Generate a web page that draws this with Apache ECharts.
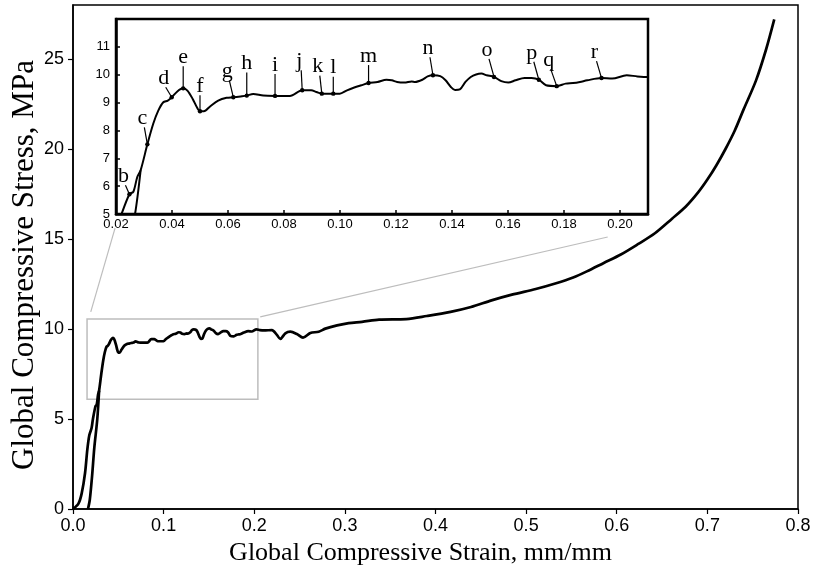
<!DOCTYPE html>
<html>
<head>
<meta charset="utf-8">
<script src="https://cdn.jsdelivr.net/npm/echarts@6/dist/echarts.min.js"></script>
<style>
  html, body { margin: 0; padding: 0; background: #fff; }
  #main { width: 813px; height: 571px; }
</style>
</head>
<body>
<div id="main"></div>
<script>
// main stress-strain curve
var strain = [0, 0.006, 0.0096, 0.0133, 0.0158, 0.018, 0.0205, 0.022, 0.0248, 0.0262,
  0.0276, 0.0288, 0.0312, 0.0333, 0.0351, 0.0369, 0.0385, 0.0399, 0.0419, 0.044,
  0.0455, 0.0474, 0.049, 0.05, 0.0514, 0.0536, 0.0565, 0.0595, 0.0619, 0.0645,
  0.0667, 0.069, 0.0726, 0.0768, 0.0821, 0.0865, 0.0897, 0.0916, 0.0935, 0.0955,
  0.0976, 0.0999, 0.1025, 0.1051, 0.1076, 0.1102, 0.1134, 0.1166, 0.1185, 0.1204,
  0.123, 0.1256, 0.1268, 0.1294, 0.1313, 0.1332, 0.1358, 0.1377, 0.1396, 0.1411,
  0.1428, 0.1448, 0.1467, 0.1486, 0.1505, 0.1524, 0.155, 0.1576, 0.1601, 0.1627,
  0.1659, 0.1684, 0.171, 0.1736, 0.1774, 0.1806, 0.1832, 0.1857, 0.1883, 0.1934,
  0.1972, 0.2024, 0.2062, 0.2107, 0.2195, 0.225, 0.2287, 0.2343, 0.2398, 0.2471,
  0.2538, 0.2619, 0.2711, 0.2785, 0.2914, 0.3042, 0.3189, 0.3377, 0.3678, 0.3904,
  0.4166, 0.4392, 0.4618, 0.4843, 0.5106, 0.5331, 0.5519, 0.567, 0.5857, 0.6045,
  0.6233, 0.6421, 0.661, 0.676, 0.69, 0.70, 0.71, 0.72, 0.73, 0.74,
  0.7536, 0.7646, 0.7738];
var stress = [0, 0.3, 0.87, 2.0, 3.3, 4.1, 4.5, 5.0, 5.71, 5.8,
  6.33, 6.57, 7.5, 8.24, 8.71, 9.01, 9.07, 9.19, 9.4, 9.51,
  9.43, 9.13, 8.81, 8.69, 8.69, 8.86, 9.07, 9.17, 9.19, 9.22,
  9.25, 9.31, 9.25, 9.24, 9.24, 9.44, 9.44, 9.38, 9.32, 9.32,
  9.32, 9.32, 9.44, 9.54, 9.62, 9.70, 9.74, 9.82, 9.80, 9.74,
  9.72, 9.76, 9.74, 9.82, 9.94, 9.98, 9.95, 9.80, 9.56, 9.45,
  9.47, 9.74, 9.92, 10.01, 10.04, 9.98, 9.92, 9.77, 9.72, 9.80,
  9.88, 9.88, 9.82, 9.62, 9.59, 9.68, 9.70, 9.74, 9.80, 9.88,
  9.86, 9.98, 9.94, 9.92, 9.94, 9.67, 9.45, 9.76, 9.85, 9.72,
  9.52, 9.78, 9.85, 10.02, 10.2, 10.33, 10.4, 10.52, 10.55, 10.72,
  10.95, 11.22, 11.59, 11.91, 12.22, 12.54, 12.86, 13.2, 13.67, 14.14,
  14.71, 15.32, 16.13, 16.79, 17.6, 18.3, 19.1, 20.0, 21.0, 22.2,
  23.8, 25.5, 27.2];

// second, steeper loading branch near the origin
var strainB = [0.0165, 0.0185, 0.021, 0.0235, 0.0268, 0.0288];
var stressB = [0, 0.5, 1.8, 3.4, 5.0, 6.57];

// labelled points in the inset
var pointNames = ['b', 'c', 'd', 'e', 'f', 'g', 'h', 'i', 'j', 'k', 'l', 'm', 'n', 'o', 'p', 'q', 'r'];
var pointStrain = [0.0248, 0.0312, 0.0399, 0.044, 0.05, 0.0619, 0.0667, 0.0768, 0.0865,
  0.0935, 0.0976, 0.1102, 0.1332, 0.155, 0.171, 0.1774, 0.1934];
var pointStress = [5.71, 7.5, 9.19, 9.51, 8.69, 9.19, 9.25, 9.24, 9.44,
  9.32, 9.32, 9.70, 9.98, 9.92, 9.82, 9.59, 9.88];

// leader line offsets in pixels (dot -> letter)
var leadOffsets = [[-4, -9], [-3, -17], [-6, -10], [0, -22], [0, -16], [-4, -17], [0, -23],
  [0, -22], [-1, -20], [-2, -18], [0, -17], [0, -18], [-3, -18], [-5, -18], [-5, -18],
  [-6, -17], [-5, -17]];

function zip(a, b) {
  var out = [];
  for (var i = 0; i < a.length; i++) out.push([a[i], b[i]]);
  return out;
}

var curveA = zip(strain, stress);
var curveB = zip(strainB, stressB);
var points = zip(pointStrain, pointStress);

var myChart = echarts.init(document.getElementById('main'));

var option = {
  animation: false,
  backgroundColor: '#fff',
  textStyle: { fontFamily: 'Liberation Sans' },
  grid: [
    {
      left: 73, right: 15, top: 5, bottom: 62,
      outerBoundsMode: 'none', containLabel: false,
      show: true, borderColor: '#000', borderWidth: 1.5
    },
    {
      left: 116, right: 165, top: 19, bottom: 357,
      outerBoundsMode: 'none', containLabel: false,
      show: true, borderColor: '#000', borderWidth: 2.5, backgroundColor: '#fff', z: 5
    }
  ],
  xAxis: [
    {
      gridIndex: 0, type: 'value', min: 0, max: 0.8, interval: 0.1,
      name: 'Global Compressive Strain, mm/mm',
      nameLocation: 'middle', nameGap: 27,
      nameTextStyle: { fontFamily: 'Liberation Serif', fontSize: 26, color: '#000',
        padding: [0, 30, 0, 0] },
      axisLine: { lineStyle: { color: '#000', width: 1.5 } },
      axisTick: { length: 5, lineStyle: { color: '#000', width: 1.2 } },
      axisLabel: {
        color: '#000', fontSize: 18, margin: 8,
        formatter: function (v) { return v.toFixed(1); }
      },
      splitLine: { show: false }
    },
    {
      gridIndex: 1, type: 'value', min: 0.02, max: 0.21, interval: 0.02,
      z: 6,
      axisLine: { onZero: false, lineStyle: { color: '#000', width: 2.5 } },
      axisTick: { inside: true, length: 4, lineStyle: { color: '#000', width: 1.5 } },
      axisLabel: {
        color: '#000', fontSize: 13, margin: 4, showMaxLabel: false,
        formatter: function (v) { return v.toFixed(2); }
      },
      splitLine: { show: false }
    }
  ],
  yAxis: [
    {
      gridIndex: 0, type: 'value', min: 0, max: 28, interval: 5,
      name: 'Global Compressive Stress, MPa',
      nameLocation: 'middle', nameGap: 33, nameMoveOverlap: false,
      nameTextStyle: { fontFamily: 'Liberation Serif', fontSize: 31, color: '#000',
        padding: [0, 16, 0, 0] },
      axisLine: { lineStyle: { color: '#000', width: 1.5 } },
      axisTick: { length: 5, lineStyle: { color: '#000', width: 1.2 } },
      axisLabel: { color: '#000', fontSize: 18, margin: 9, showMaxLabel: false },
      splitLine: { show: false }
    },
    {
      gridIndex: 1, type: 'value', min: 5, max: 12, interval: 1,
      z: 6,
      axisLine: { onZero: false, lineStyle: { color: '#000', width: 2.5 } },
      axisTick: { inside: true, length: 4, lineStyle: { color: '#000', width: 1.5 } },
      axisLabel: { color: '#000', fontSize: 13, margin: 6, showMaxLabel: false },
      splitLine: { show: false }
    }
  ],
  series: [
    {
      name: 'Stress-strain',
      type: 'line',
      xAxisIndex: 0, yAxisIndex: 0,
      data: curveA,
      showSymbol: false,
      smooth: 0.3,
      lineStyle: { color: '#000', width: 2.7 },
      silent: true,
      markArea: {
        silent: true,
        itemStyle: { color: 'rgba(0,0,0,0)', borderColor: '#bdbdbd', borderWidth: 1.5 },
        data: [[{ coord: [0.0155, 10.55] }, { coord: [0.204, 6.1] }]]
      },
      markLine: {
        silent: true,
        symbol: 'none',
        label: { show: false },
        lineStyle: { color: '#bdbdbd', width: 1.2, type: 'solid' },
        data: [
          [{ coord: [0.0196, 10.95] }, { coord: [0.0464, 15.6] }],
          [{ coord: [0.2066, 10.67] }, { coord: [0.59, 15.11] }]
        ]
      }
    },
    {
      name: 'Branch B',
      type: 'line',
      xAxisIndex: 0, yAxisIndex: 0,
      data: curveB,
      showSymbol: false,
      smooth: 0.3,
      lineStyle: { color: '#000', width: 2.7 },
      silent: true
    },
    {
      name: 'Inset',
      type: 'line',
      xAxisIndex: 1, yAxisIndex: 1,
      data: curveA,
      showSymbol: false,
      smooth: 0.3,
      z: 7,
      lineStyle: { color: '#000', width: 2 },
      silent: true
    },
    {
      name: 'Inset B',
      type: 'line',
      xAxisIndex: 1, yAxisIndex: 1,
      data: curveB,
      showSymbol: false,
      smooth: 0.3,
      z: 7,
      lineStyle: { color: '#000', width: 2 },
      silent: true
    },
    {
      name: 'Points',
      type: 'custom',
      xAxisIndex: 1, yAxisIndex: 1,
      data: points,
      z: 8,
      clip: false,
      silent: true,
      renderItem: function (params, api) {
        var p = api.coord([api.value(0), api.value(1)]);
        var off = leadOffsets[params.dataIndex];
        var ex = p[0] + off[0], ey = p[1] + off[1];
        return {
          type: 'group',
          children: [
            { type: 'line', shape: { x1: p[0], y1: p[1], x2: ex, y2: ey },
              style: { stroke: '#000', lineWidth: 1.2 } },
            { type: 'circle', shape: { cx: p[0], cy: p[1], r: 2.2 },
              style: { fill: '#000' } },
            { type: 'text', x: ex + (off[0] < 0 ? -2 : 0), y: ey + 2,
              style: { text: pointNames[params.dataIndex], fill: '#000',
                fontFamily: 'Liberation Serif', fontSize: 22,
                align: 'center', verticalAlign: 'bottom' } }
          ]
        };
      }
    }
  ]
};

myChart.setOption(option);
</script>
</body>
</html>
